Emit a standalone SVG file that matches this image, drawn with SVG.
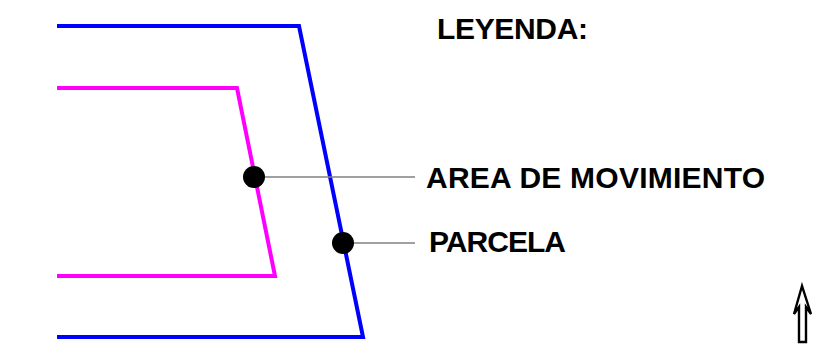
<svg xmlns="http://www.w3.org/2000/svg" width="822" height="351" viewBox="0 0 822 351">
<style>
.lbl{font-family:"Liberation Sans",Arial,sans-serif;font-weight:bold;font-size:30px;fill:#000}
.lead{stroke:#808080;stroke-width:1.6;fill:none}
.dot{fill:#000}
</style>
<rect width="822" height="351" fill="#fff"/>
<g id="parcela">
<polyline points="57,26 299,26 363,337 57,337" fill="none" stroke="#0000ff" stroke-width="4"/>
</g>
<g id="area-movimiento">
<polyline points="57,88 237,88 275,276 57,276" fill="none" stroke="#ff00ff" stroke-width="4"/>
</g>
<g id="connectors">
<line class="lead" x1="254" y1="177" x2="415" y2="177"/>
<line class="lead" x1="343" y1="243" x2="415" y2="243"/>
<circle class="dot" cx="254" cy="177" r="11"/>
<circle class="dot" cx="343" cy="243" r="11"/>
</g>
<g id="legend">
<text class="lbl" x="437" y="39" textLength="151" lengthAdjust="spacing">LEYENDA:</text>
<text class="lbl" x="426" y="188" textLength="339" lengthAdjust="spacing">AREA DE MOVIMIENTO</text>
<text class="lbl" x="429" y="252" textLength="137" lengthAdjust="spacing">PARCELA</text>
</g>
<g id="north-arrow">
<polygon points="802,286 794,314 799,307 799,342 806,342 806,307 811,314" fill="#fff" stroke="#000" stroke-width="2.4" stroke-linejoin="miter"/>
</g>
</svg>
